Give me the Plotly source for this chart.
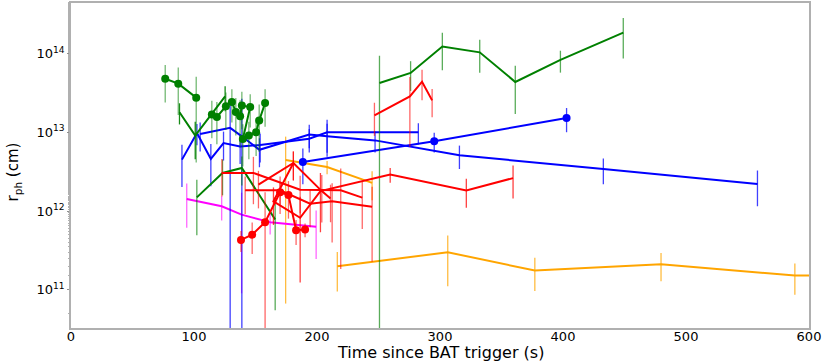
import plotly.graph_objects as go

# photospheric radius vs time, one list per burst segment (t in s, r in cm, err as fraction of r)
g1_t = [76.6, 87.2, 101.8]
g1_r = [4.8e13, 4.16e13, 2.76e13]
g1_e = [0.5, 0.6, 0.85]

g2_t = [114.5, 118.6, 125.9, 130.8, 134.0, 137.5, 138.9, 145.7, 139.7, 144.6, 150.5, 153.0, 157.8]
g2_r = [1.68e13, 1.57e13, 2.14e13, 2.43e13, 1.82e13, 1.6e13, 2.19e13, 2.1e13, 8.2e12, 9.1e12, 1.0e13, 1.41e13, 2.36e13]
g2_e = [0.5, 0.55, 0.5, 0.45, 0.5, 0.6, 0.5, 0.45, 0.55, 0.5, 0.5, 0.6, 0.5]

g3_t = [88.2, 101.0, 125.3]
g3_r = [1.8e13, 9.1e12, 2.86e13]
g3_e = [0.3, 0.5, 0.35]

g4_t = [102.3, 123.2, 138.9, 166.0]
g4_r = [1.49e12, 3.05e12, 3.52e12, 7.8e11]
g4_e = [0.67, 0.48, 0.4, 0.93]

g5_t = [250.8, 276.1, 301.9, 332.3, 361.2, 397.9, 449.0]
g5_r = [4.24e13, 5.69e13, 1.23e14, 1.04e14, 4.37e13, 8.32e13, 1.85e14]
g5_e = [1.22, 0.41, 0.5, 0.45, 0.61, 0.31, 0.53]

b1_t = [90.2, 102.4, 113.7, 124.0, 137.5, 153.8, 193.7, 208.2, 282.4]
b1_r = [4.5e12, 9.8e12, 4.6e12, 7.3e12, 6.6e12, 6.9e12, 8.3e12, 1.0e13, 1.0e13]
b1_e = [0.55, 0.3, 0.55, 0.4, 0.4, 0.4, 0.33, 0.45, 0.3]

b2_t = [105.0, 129.4, 138.9, 153.2, 193.7, 208.2, 247.2, 315.8, 432.8, 558.1]
b2_r = [9.5e12, 1.14e13, 8.9e12, 6.0e12, 9.4e12, 8.9e12, 7.9e12, 5.1e12, 3.43e12, 2.21e12]
b2_e = [0.4, 1.3, 2.0, 0.4, 0.33, 0.45, 0.3, 0.33, 0.36, 0.48]

b3_t = [188.5, 295.3, 402.9]
b3_r = [4.2e12, 7.7e12, 1.52e13]
b3_e = [0.48, 0.28, 0.34]

o1_t = [174.5, 208.2, 244.8]
o1_r = [4.44e12, 3.63e12, 2.28e12]
o1_e = [0.985, 0.19, 0.4]

o2_t = [216.5, 306.3, 377.1, 479.7, 588.5, 640.0]
o2_r = [1.98e11, 2.99e11, 1.75e11, 2.1e11, 1.51e11, 1.55e11]
o2_e = [0.52, 0.63, 0.45, 0.39, 0.43, 0.4]

m1_t = [94.1, 122.5, 138.7, 161.9, 199.3]
m1_r = [1.42e12, 1.15e12, 9.0e11, 7.2e11, 6.3e11]
m1_e = [0.57, 0.34, 0.9, 0.3, 0.61]

r1_t = [138.2, 147.3, 157.8, 170.0, 176.8, 183.0, 190.3]
r1_r = [4.29e11, 5.0e11, 7.2e11, 1.73e12, 1.6e12, 5.7e11, 5.8e11]
r1_e = [0.3, 0.43, 1.4, 0.3, 0.5, 0.35, 0.2]

r2_t = [246.7, 275.5, 285.4, 293.6]
r2_r = [1.64e13, 2.86e13, 4.4e13, 2.55e13]
r2_e = [0.45, 0.77, 0.42, 0.39]

r3_t = [122.7, 148.3, 186.3, 219.3, 236.8]
r3_r = [3.05e12, 3.05e12, 1.87e12, 1.83e12, 1.48e12]
r3_e = [0.5, 0.6, 0.5, 0.9, 0.6]

r4_t = [141.6, 170.0, 194.4, 212.3, 244.8]
r4_r = [1.83e12, 1.83e12, 1.24e12, 1.33e12, 1.13e12]
r4_e = [0.5, 0.5, 0.5, 0.7, 0.8]

r5_t = [152.4, 180.8, 203.9, 211.0]
r5_r = [2.16e12, 4.08e12, 1.79e12, 1.44e12]
r5_e = [0.5, 0.4, 0.6, 0.5]

r6_t = [180.8, 164.6, 186.3, 202.8, 259.5, 321.4, 359.4]
r6_r = [4.08e12, 1.33e12, 8.2e11, 1.79e12, 2.9e12, 1.83e12, 2.62e12]
r6_e = [0.4, 0.5, 0.85, 0.7, 0.21, 0.4, 0.45]

x_ticks = [0, 100, 200, 300, 400, 500, 600]
y_ticks = [1e11, 1e12, 1e13, 1e14]
y_labels = ["10<sup>11</sup>", "10<sup>12</sup>", "10<sup>13</sup>", "10<sup>14</sup>"]

GREEN = "#008000"
BLUE = "#0000ff"
RED = "#ff0000"
ORANGE = "#ffa500"
MAGENTA = "#ff00ff"

series = [
    (o2_t, o2_r, o2_e, ORANGE, False, "rgba(255,165,0,0.75)"),
    (o1_t, o1_r, o1_e, ORANGE, False, "rgba(255,165,0,0.75)"),
    (m1_t, m1_r, m1_e, MAGENTA, False, "rgba(255,0,255,0.6)"),
    (b2_t, b2_r, b2_e, BLUE, False, "rgba(0,0,255,0.75)"),
    (b1_t, b1_r, b1_e, BLUE, False, "rgba(0,0,255,0.75)"),
    (b3_t, b3_r, b3_e, BLUE, True, "rgba(0,0,255,0.75)"),
    (g4_t, g4_r, g4_e, GREEN, False, "rgba(0,128,0,0.65)"),
    (g3_t, g3_r, g3_e, GREEN, False, "rgba(0,128,0,0.9)"),
    (g1_t, g1_r, g1_e, GREEN, True, "rgba(0,128,0,0.55)"),
    (g2_t, g2_r, g2_e, GREEN, True, "rgba(0,128,0,0.55)"),
    (g5_t, g5_r, g5_e, GREEN, False, "rgba(0,128,0,0.65)"),
    (r3_t, r3_r, r3_e, RED, False, "rgba(255,0,0,0.6)"),
    (r4_t, r4_r, r4_e, RED, False, "rgba(255,0,0,0.6)"),
    (r5_t, r5_r, r5_e, RED, False, "rgba(255,0,0,0.6)"),
    (r6_t, r6_r, r6_e, RED, False, "rgba(255,0,0,0.75)"),
    (r2_t, r2_r, r2_e, RED, False, "rgba(255,0,0,0.6)"),
    (r1_t, r1_r, r1_e, RED, True, "rgba(255,0,0,0.6)"),
]

fig = go.Figure()
for t, r, e, color, dots, ecolor in series:
    fig.add_trace(
        go.Scatter(
            x=t,
            y=r,
            mode="lines+markers" if dots else "lines",
            line=dict(color=color, width=2),
            marker=dict(color=color, size=8),
            error_y=dict(
                type="data",
                array=[f * v for f, v in zip(e, r)],
                symmetric=True,
                color=ecolor,
                thickness=1.3,
                width=0,
            ),
            showlegend=False,
        )
    )

axis_style = dict(
    showline=True,
    linecolor="#b0b0b0",
    linewidth=1.5,
    mirror=True,
    showgrid=False,
    zeroline=False,
    automargin=False,
    tickfont=dict(family="DejaVu Sans", size=13, color="black"),
)

fig.update_xaxes(range=[0, 600], tickvals=x_ticks, ticks="", ticklabelstandoff=-4, **axis_style)
fig.update_yaxes(
    type="log",
    range=[10.513, 14.644],
    tickvals=y_ticks,
    ticktext=y_labels,
    ticks="outside",
    ticklen=2,
    tickcolor="#909090",
    minor=dict(ticks="outside", ticklen=1, tickcolor="#b0b0b0", showgrid=False),
    **axis_style,
)

# axis titles placed as annotations so they sit where the reference has them
fig.add_annotation(
    text="Time since BAT trigger (s)",
    xref="paper", yref="paper", x=0.5, y=-0.075,
    xanchor="center", yanchor="middle", showarrow=False,
    font=dict(family="DejaVu Sans", size=16, color="black"),
)
fig.add_annotation(
    text="r<sub>ph</sub> (cm)",
    xref="paper", yref="paper", x=-0.078, y=0.48,
    xanchor="center", yanchor="middle", textangle=-90, showarrow=False,
    font=dict(family="DejaVu Sans", size=15, color="black"),
)

fig.update_layout(
    width=830,
    height=363,
    margin=dict(l=71, r=21, t=3, b=35),
    plot_bgcolor="white",
    paper_bgcolor="white",
    font=dict(family="DejaVu Sans", color="black"),
)
# drop the browser's default body margin so the figure sits at the page corner
fig.write_html(
    "out.html",
    config={"displayModeBar": False},
    post_script="document.body.style.margin='0';",
)
